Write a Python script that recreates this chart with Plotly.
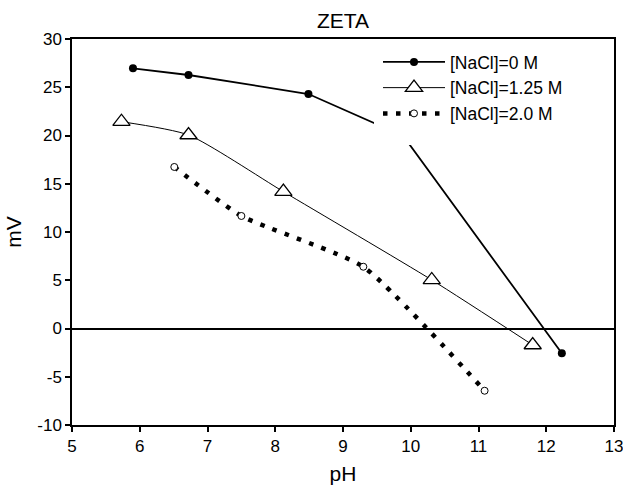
import plotly.graph_objects as go

# ---- data ----
ph_0 = [5.90, 6.72, 8.49, 9.89, 12.23]
mv_0 = [26.96, 26.27, 24.30, 19.95, -2.57]

ph_125 = [5.73, 6.72, 8.12, 10.31, 11.80]
mv_125 = [21.43, 20.05, 14.18, 5.03, -1.71]

ph_20 = [6.51, 7.50, 9.30, 11.09]
mv_20 = [16.74, 11.66, 6.40, -6.45]

names = ["[NaCl]=0 M", "[NaCl]=1.25 M", "[NaCl]=2.0 M"]
x_ticks = [5, 6, 7, 8, 9, 10, 11, 12, 13]
y_ticks = [-10, -5, 0, 5, 10, 15, 20, 25, 30]

W, H = 623, 485
L, R, T, B = 72, 9, 39, 60
pw, ph = W - L - R, H - T - B

FONT = "Liberation Sans, Arial, Helvetica, sans-serif"

fig = go.Figure()
fig.add_trace(go.Scatter(
    x=ph_0, y=mv_0, name=names[0], mode="lines+markers",
    line=dict(color="black", width=1.8),
    marker=dict(symbol="circle", size=8, color="black"),
))
fig.add_trace(go.Scatter(
    x=ph_125, y=mv_125, name=names[1], mode="lines+markers",
    line=dict(color="black", width=1, shape="spline", smoothing=0.6),
    marker=dict(symbol="triangle-up", size=15, color="white",
                line=dict(color="black", width=1.3)),
))
fig.add_trace(go.Scatter(
    x=ph_20, y=mv_20, name=names[2], mode="lines+markers",
    line=dict(color="black", width=4.5, dash="4.5px,8.5px", shape="spline", smoothing=0.5),
    marker=dict(symbol="circle", size=7, color="white",
                line=dict(color="black", width=1)),
))

# white legend area that hides the curve behind it
fig.add_shape(type="rect", xref="paper", yref="paper", layer="above",
              x0=(374 - L) / pw, x1=(612 - L) / pw,
              y0=(H - B - 145) / ph, y1=(H - B - 41) / ph,
              line=dict(width=0), fillcolor="white")

axis_common = dict(
    showgrid=False, showline=True, linecolor="black", linewidth=1.5,
    mirror=True, ticks="outside", ticklen=5, tickwidth=1.5, tickcolor="black",
    tickfont=dict(family=FONT, size=17, color="black"), automargin=False,
    ticklabeloverflow="allow",
)
fig.update_xaxes(range=[5, 13], tickvals=x_ticks, ticktext=[str(v) for v in x_ticks],
                 zeroline=False,
                 title=dict(text="pH", font=dict(family=FONT, size=21, color="black"), standoff=14),
                 **axis_common)
fig.update_yaxes(range=[-10, 30], tickvals=y_ticks, ticktext=[str(v) for v in y_ticks],
                 zeroline=True, zerolinecolor="black", zerolinewidth=1.5,
                 title=dict(text="mV", font=dict(family=FONT, size=21, color="black"), standoff=10),
                 **axis_common)

fig.update_layout(
    width=W, height=H,
    margin=dict(l=L, r=R, t=T, b=B, pad=0, autoexpand=False),
    paper_bgcolor="white", plot_bgcolor="white",
    title=dict(text="ZETA", x=(L + pw / 2) / W, xanchor="center",
               y=1 - 21 / H, yanchor="middle",
               font=dict(family=FONT, size=21, color="black")),
    showlegend=True,
    legend=dict(x=(378 - L) / pw, y=(H - B - 44) / ph, xanchor="left", yanchor="top",
                bgcolor="rgba(0,0,0,0)", borderwidth=0, itemwidth=62,
                font=dict(family=FONT, size=17.5, color="black"),
                tracegroupgap=0),
)

fig.write_html("out.html")
